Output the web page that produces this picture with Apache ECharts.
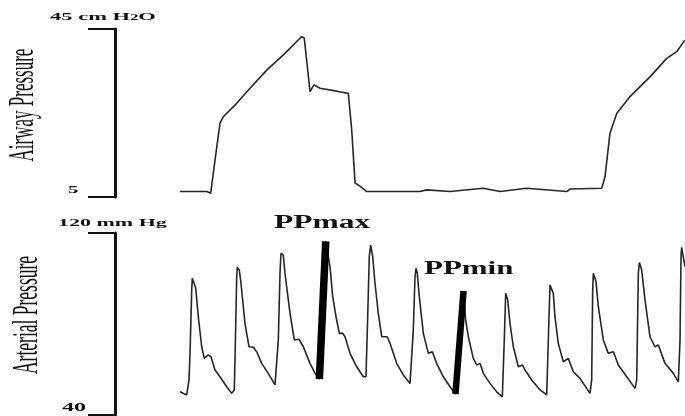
<!DOCTYPE html>
<html>
<head>
<meta charset="utf-8">
<script src="https://cdn.jsdelivr.net/npm/echarts@6/dist/echarts.min.js"></script>
<style>html,body{margin:0;padding:0;background:#fff}#c{width:685px;height:416px}</style>
</head>
<body>
<div id="c"></div>
<script>
// ---- Data (time in seconds, pressures in their units) ----
const airwayTime = [0, 0.397, 0.456, 0.52, 0.594, 0.643, 0.842, 1.04, 1.288, 1.559, 1.807, 1.846, 1.931, 1.99, 2.079, 2.327, 2.45, 2.5, 2.55, 2.6, 2.673, 2.773, 3.218, 3.564, 3.664, 4.01, 4.505, 4.753, 5.149, 5.743, 5.792, 6.263, 6.312, 6.386, 6.486, 6.683, 6.98, 7.228, 7.377, 7.5];
const airwayPressure = [6.3, 6.3, 5.9, 13.8, 22.6, 24.1, 27.3, 30.9, 35.2, 39.2, 43.2, 42.8, 30.1, 31.7, 30.9, 30.2, 29.8, 29.7, 21.0, 8.3, 7.6, 6.3, 6.3, 6.3, 6.7, 6.3, 7.1, 6.3, 7.1, 6.3, 6.9, 7.1, 9.8, 20.2, 24.9, 28.9, 33.6, 38.0, 39.6, 42.4];

const arterialTime = [0, 0.1, 0.134, 0.149, 0.174, 0.183, 0.212, 0.233, 0.272, 0.322, 0.361, 0.42, 0.46, 0.52, 0.594, 0.694, 0.768, 0.806, 0.817, 0.842, 0.851, 0.881, 0.906, 0.965, 1.025, 1.089, 1.139, 1.213, 1.311, 1.411, 1.436, 1.46, 1.485, 1.5, 1.534, 1.559, 1.634, 1.698, 1.767, 1.831, 1.931, 2.005, 2.07, 2.165, 2.228, 2.268, 2.317, 2.366, 2.416, 2.451, 2.525, 2.624, 2.723, 2.762, 2.782, 2.811, 2.832, 2.862, 2.896, 2.945, 2.996, 3.079, 3.119, 3.218, 3.316, 3.416, 3.441, 3.465, 3.49, 3.505, 3.524, 3.554, 3.614, 3.688, 3.748, 3.812, 3.911, 4.01, 4.091, 4.211, 4.243, 4.282, 4.356, 4.406, 4.455, 4.505, 4.604, 4.703, 4.787, 4.816, 4.837, 4.867, 4.901, 4.95, 5.025, 5.084, 5.124, 5.223, 5.347, 5.446, 5.47, 5.495, 5.544, 5.569, 5.618, 5.693, 5.767, 5.841, 5.941, 6.089, 6.114, 6.129, 6.139, 6.178, 6.213, 6.287, 6.361, 6.436, 6.51, 6.634, 6.758, 6.783, 6.807, 6.822, 6.857, 6.906, 6.98, 7.054, 7.104, 7.203, 7.327, 7.401, 7.426, 7.441, 7.451, 7.47, 7.5];
const arterialPressure = [50.2, 48.8, 55.4, 67.3, 95.0, 100.1, 100.1, 95.8, 83.2, 70.0, 64.9, 66.4, 65.6, 59.8, 56.8, 52.4, 49.5, 51.0, 64.2, 100.8, 104.9, 103.7, 97.9, 80.3, 70.0, 69.8, 67.8, 62.7, 58.3, 53.2, 53.9, 73.0, 102.3, 111.1, 110.3, 102.3, 84.7, 73.0, 73.3, 70.0, 62.7, 58.3, 55.8, 116.3, 105.2, 92.0, 83.2, 75.9, 75.9, 74.4, 67.1, 61.2, 56.8, 56.8, 77.4, 109.6, 114.7, 109.6, 97.9, 84.7, 74.4, 74.4, 71.5, 62.7, 57.6, 53.9, 54.6, 77.4, 100.8, 104.5, 102.3, 92.0, 75.9, 67.1, 67.8, 62.7, 56.8, 52.4, 49.2, 94.5, 81.8, 74.4, 64.9, 62.0, 62.7, 58.3, 53.9, 50.2, 48.0, 73.0, 93.5, 90.6, 80.3, 70.0, 61.2, 62.0, 59.8, 55.4, 51.0, 48.8, 73.0, 97.1, 93.5, 83.2, 71.5, 63.4, 64.9, 59.0, 56.1, 49.5, 55.4, 95.0, 102.3, 98.6, 87.6, 73.0, 67.1, 67.8, 62.0, 56.8, 51.7, 55.4, 102.3, 107.0, 103.7, 90.6, 74.4, 70.0, 70.8, 62.7, 58.3, 54.6, 73.0, 110.3, 113.7, 110.3, 105.2];

const ppMaxTime = [2.07, 2.165];
const ppMaxValue = [55.8, 116.3];
const ppMinTime = [4.091, 4.211];
const ppMinValue = [49.2, 94.5];

const airwayRange = [5, 45];
const arterialRange = [40, 120];
const timeRange = [0, 7.5];

const airwayTickLabels = ['45 cm H', '2', 'O', '5'];
const arterialTickLabels = ['120 mm Hg', '40'];
const axisTitles = ['Airway Pressure', 'Arterial Pressure'];
const markerLabels = ['PPmax', 'PPmin'];

// ---- Chart ----
const zip = (xs, ys) => xs.map((x, i) => [x, ys[i]]);
const chart = echarts.init(document.getElementById('c'), null, { renderer: 'canvas' });
const SERIF = '"Liberation Serif", "DejaVu Serif", serif';
const traceStyle = { color: '#262626', width: 1.6 };

function yAxisFor(range, gridIndex) {
  return {
    type: 'value', gridIndex: gridIndex, min: range[0], max: range[1],
    position: 'left', offset: 64.5,
    axisLine: { show: true, onZero: false, lineStyle: { color: '#111', width: 3 } },
    axisTick: { show: true, customValues: range, length: 27.5, inside: false, lineStyle: { color: '#111', width: 2 } },
    axisLabel: { show: false }, splitLine: { show: false }
  };
}

const option = {
  animation: false,
  backgroundColor: '#fff',
  grid: [
    { left: 180, right: 0, top: 29, height: 168 },
    { left: 180, right: 0, top: 233, height: 182 }
  ],
  xAxis: [
    { type: 'value', gridIndex: 0, min: timeRange[0], max: timeRange[1], show: false },
    { type: 'value', gridIndex: 1, min: timeRange[0], max: timeRange[1], show: false }
  ],
  yAxis: [yAxisFor(airwayRange, 0), yAxisFor(arterialRange, 1)],
  series: [
    { type: 'line', xAxisIndex: 0, yAxisIndex: 0, data: zip(airwayTime, airwayPressure), showSymbol: false, lineStyle: traceStyle, z: 3 },
    { type: 'line', xAxisIndex: 1, yAxisIndex: 1, data: zip(arterialTime, arterialPressure), showSymbol: false, lineStyle: traceStyle, z: 3 },
    { type: 'line', xAxisIndex: 1, yAxisIndex: 1, data: zip(ppMaxTime, ppMaxValue), showSymbol: false, lineStyle: { color: '#000', width: 7.5, cap: 'butt' }, z: 4 },
    { type: 'line', xAxisIndex: 1, yAxisIndex: 1, data: zip(ppMinTime, ppMinValue), showSymbol: false, lineStyle: { color: '#000', width: 6.5, cap: 'butt' }, z: 4 }
  ],
  graphic: [
    { type: 'text', x: 50, y: 17.5, scaleX: 2.05, style: { rich: { a: { fontFamily: SERIF, fontWeight: 'bold', fontSize: 11, fill: '#111' }, s: { fontFamily: SERIF, fontWeight: 'bold', fontSize: 8, fill: '#111' } }, text: '{a|' + airwayTickLabels[0] + '}{s|' + airwayTickLabels[1] + '}{a|' + airwayTickLabels[2] + '}', verticalAlign: 'middle', align: 'left' } },
    { type: 'text', x: 68, y: 190, scaleX: 1.9, style: { text: airwayTickLabels[3], font: 'bold 11px ' + SERIF, fill: '#111', verticalAlign: 'middle', align: 'left' } },
    { type: 'text', x: 58, y: 223, scaleX: 2.0, style: { text: arterialTickLabels[0], font: 'bold 11px ' + SERIF, fill: '#111', verticalAlign: 'middle', align: 'left' } },
    { type: 'text', x: 62, y: 408, scaleX: 2.1, style: { text: arterialTickLabels[1], font: 'bold 11.5px ' + SERIF, fill: '#111', verticalAlign: 'middle', align: 'left' } },
    { type: 'text', x: 24, y: 105, rotation: Math.PI / 2, scaleY: 2.1, style: { text: axisTitles[0], font: '17px ' + SERIF, fill: '#111', verticalAlign: 'middle', align: 'center' } },
    { type: 'text', x: 28, y: 315, rotation: Math.PI / 2, scaleY: 2.0, style: { text: axisTitles[1], font: '17.5px ' + SERIF, fill: '#111', verticalAlign: 'middle', align: 'center' } },
    { type: 'text', x: 274, y: 223, scaleX: 1.75, style: { text: markerLabels[0], font: 'bold 18px ' + SERIF, fill: '#111', verticalAlign: 'middle', align: 'left' } },
    { type: 'text', x: 424, y: 269, scaleX: 1.72, style: { text: markerLabels[1], font: 'bold 18px ' + SERIF, fill: '#111', verticalAlign: 'middle', align: 'left' } }
  ]
};
chart.setOption(option);
</script>
</body>
</html>
